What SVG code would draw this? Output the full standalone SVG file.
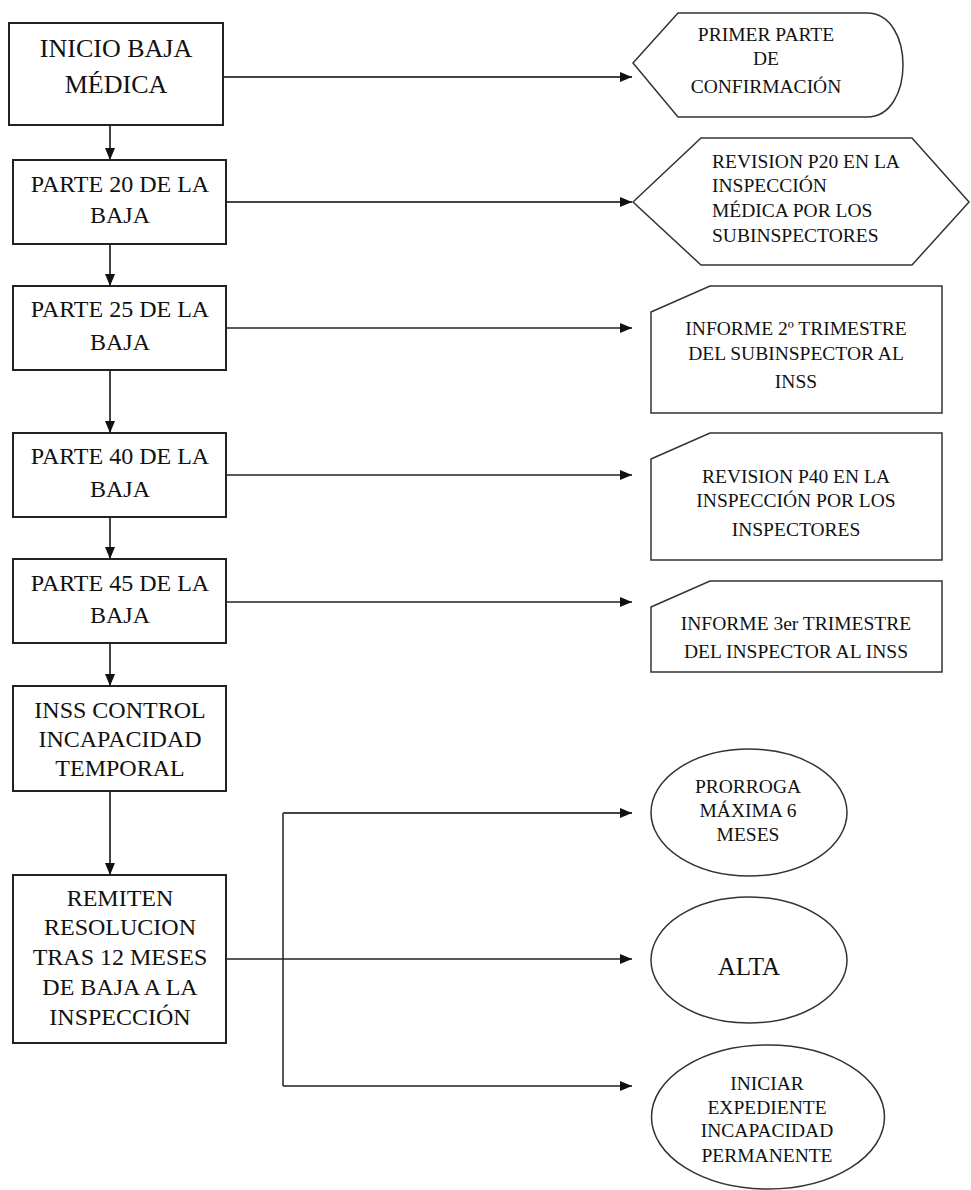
<svg xmlns="http://www.w3.org/2000/svg" width="971" height="1190" viewBox="0 0 971 1190">
<style>
.box{fill:#fff;stroke:#222;stroke-width:2}
.shp{fill:#fff;stroke:#333;stroke-width:1.5}
.t{font-family:'Liberation Serif','DejaVu Serif',serif;font-size:24px;fill:#111;text-anchor:middle}
.r{font-family:'Liberation Serif','DejaVu Serif',serif;font-size:19.5px;fill:#111;text-anchor:middle}
.c{fill:none;stroke:#444;stroke-width:2}
.ch{fill:none;stroke:#222;stroke-width:1.5}
</style>
<defs>
<marker id="ah" markerUnits="userSpaceOnUse" markerWidth="12" markerHeight="10" refX="12" refY="5" orient="auto">
<path d="M0,0 L12,5 L0,10 Z" fill="#111"/>
</marker>
</defs>
<rect width="971" height="1190" fill="#fff"/>
<g id="connectors">
<line class="c" x1="110" y1="125" x2="110" y2="160" marker-end="url(#ah)"/>
<line class="c" x1="110" y1="244" x2="110" y2="286" marker-end="url(#ah)"/>
<line class="c" x1="110" y1="370" x2="110" y2="433" marker-end="url(#ah)"/>
<line class="c" x1="110" y1="517" x2="110" y2="559" marker-end="url(#ah)"/>
<line class="c" x1="110" y1="643" x2="110" y2="686" marker-end="url(#ah)"/>
<line class="c" x1="110" y1="791" x2="110" y2="875" marker-end="url(#ah)"/>
<line class="c" x1="223" y1="77" x2="632" y2="77" marker-end="url(#ah)"/>
<line class="c" x1="226" y1="202" x2="632" y2="202" marker-end="url(#ah)"/>
<line class="ch" x1="226" y1="328" x2="632" y2="328" marker-end="url(#ah)"/>
<line class="ch" x1="226" y1="475" x2="632" y2="475" marker-end="url(#ah)"/>
<line class="ch" x1="226" y1="602" x2="632" y2="602" marker-end="url(#ah)"/>
<line class="ch" x1="226" y1="959" x2="632" y2="959" marker-end="url(#ah)"/>
<line class="ch" x1="283" y1="813" x2="283" y2="1086"/>
<line class="c" x1="283" y1="813" x2="632" y2="813" marker-end="url(#ah)"/>
<line class="ch" x1="283" y1="1086" x2="632" y2="1086" marker-end="url(#ah)"/>
</g>
<g id="n1">
<rect class="box" x="9" y="23" width="214" height="102"/>
<text class="t" style="font-size:26px" x="116" y="57">INICIO BAJA</text>
<text class="t" style="font-size:26px" x="116" y="93">MÉDICA</text>
</g>
<g id="n2">
<rect class="box" x="13" y="160" width="213" height="84"/>
<text class="t" x="120" y="192">PARTE 20 DE LA</text>
<text class="t" x="120" y="223">BAJA</text>
</g>
<g id="n3">
<rect class="box" x="13" y="286" width="213" height="84"/>
<text class="t" x="120" y="317">PARTE 25 DE LA</text>
<text class="t" x="120" y="350">BAJA</text>
</g>
<g id="n4">
<rect class="box" x="13" y="433" width="213" height="84"/>
<text class="t" x="120" y="464">PARTE 40 DE LA</text>
<text class="t" x="120" y="497">BAJA</text>
</g>
<g id="n5">
<rect class="box" x="13" y="559" width="213" height="84"/>
<text class="t" x="120" y="591">PARTE 45 DE LA</text>
<text class="t" x="120" y="623">BAJA</text>
</g>
<g id="n6">
<rect class="box" x="13" y="686" width="213" height="105"/>
<text class="t" x="120" y="718">INSS CONTROL</text>
<text class="t" x="120" y="747">INCAPACIDAD</text>
<text class="t" x="120" y="776">TEMPORAL</text>
</g>
<g id="n7">
<rect class="box" x="13" y="875" width="213" height="168"/>
<text class="t" x="120" y="906">REMITEN</text>
<text class="t" x="120" y="935">RESOLUCION</text>
<text class="t" x="120" y="965">TRAS 12 MESES</text>
<text class="t" x="120" y="995">DE BAJA A LA</text>
<text class="t" x="120" y="1025">INSPECCIÓN</text>
</g>
<g id="primer">
<path class="shp" d="M633,63 L678,13 L867,13 C915,13 915,117 867,117 L678,117 Z"/>
<text class="r" x="766" y="41">PRIMER PARTE</text>
<text class="r" x="766" y="65">DE</text>
<text class="r" x="766" y="93">CONFIRMACIÓN</text>
</g>
<g id="revision20">
<path class="shp" d="M633,202 L701,138 L912,138 L969,202 L912,265 L701,265 Z"/>
<text class="r" style="text-anchor:start" x="712" y="168">REVISION P20 EN LA</text>
<text class="r" style="text-anchor:start" x="712" y="192">INSPECCIÓN</text>
<text class="r" style="text-anchor:start" x="712" y="217">MÉDICA POR LOS</text>
<text class="r" style="text-anchor:start" x="712" y="242">SUBINSPECTORES</text>
</g>
<g id="informe2">
<path class="shp" d="M651,312 L710,286 L942,286 L942,413 L651,413 Z"/>
<text class="r" x="796" y="335">INFORME 2º TRIMESTRE</text>
<text class="r" x="796" y="360">DEL SUBINSPECTOR AL</text>
<text class="r" x="796" y="388">INSS</text>
</g>
<g id="revision40">
<path class="shp" d="M651,459 L710,433 L942,433 L942,560 L651,560 Z"/>
<text class="r" x="796" y="483">REVISION P40 EN LA</text>
<text class="r" x="796" y="507">INSPECCIÓN POR LOS</text>
<text class="r" x="796" y="536">INSPECTORES</text>
</g>
<g id="informe3">
<path class="shp" d="M651,607 L710,581 L942,581 L942,672 L651,672 Z"/>
<text class="r" x="796" y="630">INFORME 3er TRIMESTRE</text>
<text class="r" x="796" y="658">DEL INSPECTOR AL INSS</text>
</g>
<g id="prorroga">
<ellipse class="shp" cx="749" cy="812.5" rx="98" ry="63.5"/>
<text class="r" x="748" y="793">PRORROGA</text>
<text class="r" x="748" y="817">MÁXIMA 6</text>
<text class="r" x="748" y="841">MESES</text>
</g>
<g id="alta">
<ellipse class="shp" cx="749" cy="960" rx="98" ry="63"/>
<text class="r" style="font-size:25px" x="749" y="975">ALTA</text>
</g>
<g id="iniciar">
<ellipse class="shp" cx="768" cy="1117" rx="116.5" ry="72"/>
<text class="r" x="767" y="1090">INICIAR</text>
<text class="r" x="767" y="1114">EXPEDIENTE</text>
<text class="r" x="767" y="1137">INCAPACIDAD</text>
<text class="r" x="767" y="1162">PERMANENTE</text>
</g>
</svg>
